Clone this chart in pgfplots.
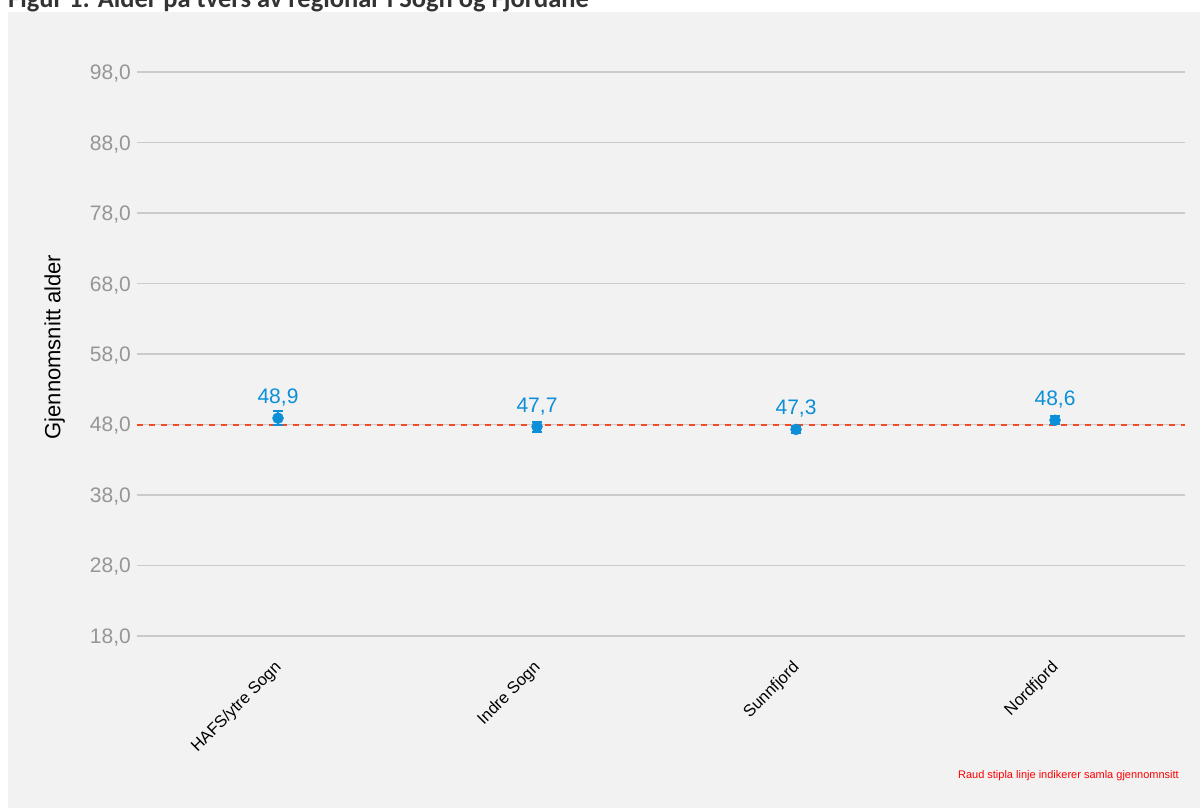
\documentclass[border=0pt]{standalone}
\usepackage{pgfplots}
\pgfplotsset{compat=1.18}
\usepackage{fontspec}
\setmainfont{Liberation Sans}
\newfontfamily\titlefont{Carlito}

\definecolor{panelbg}{HTML}{F2F2F2}
\definecolor{gridgray}{HTML}{CBCBCB}
\definecolor{tickgray}{HTML}{969696}
\definecolor{ptblue}{HTML}{0A8FD8}
\definecolor{meanred}{HTML}{F04A28}
\definecolor{titlegray}{HTML}{333333}

% region, mean age, error
\pgfplotstableread{
x  y     err
0  48.9  0.95
1  47.7  0.7
2  47.3  0.45
3  48.6  0.6
}\agedata

\begin{document}
\begin{tikzpicture}[x=1pt,y=1pt]
% page frame, given relative to the lower left corner of the plot area
\useasboundingbox (-137,-157.9) rectangle ++(1200,808);
\clip (-137,-157.9) rectangle ++(1200,808);
\begin{scope}[shift={(-137,-157.9)}]
\fill[panelbg] (8,0) rectangle (1200,796);
\node[anchor=base west, inner sep=0pt, text=titlegray]
  at (8,800.5) {\titlefont\bfseries\fontsize{26.5}{30}\selectfont Figur 1: Alder på tvers av regionar i Sogn og Fjordane};
\end{scope}

\begin{axis}[
  scale only axis, width=1048pt, height=606.3pt,
  xmin=-0.5444, xmax=3.502,
  ymin=16, ymax=102,
  axis line style={draw=none},
  major tick length=0pt,
  xtick={0,1,2,3},
  xticklabels={HAFS/ytre Sogn, Indre Sogn, Sunnfjord, Nordfjord},
  ytick={18,28,...,98},
  ymajorgrids,
  grid style={color=gridgray, line width=1.1pt},
  /pgf/number format/.cd, fixed, fixed zerofill, precision=1, use comma, assume math mode=true,
  /pgfplots/.cd,
  yticklabel style={anchor=base east, inner sep=0pt, xshift=-6pt, yshift=-7.5pt,
    text=tickgray, font=\fontsize{21}{25}\selectfont},
  xticklabel style={rotate=45, anchor=north east, inner sep=0pt, xshift=-10pt, yshift=-3.5pt,
    text=black, font=\fontsize{16.5}{20}\selectfont},
  clip=false,
]
% overall mean
\addplot[meanred, line width=2pt, dash pattern=on 6pt off 6pt] coordinates {(-0.5444,48) (3.502,48)};
% regional means with error bars
\addplot[
  only marks, mark=*, mark size=5.5pt, color=ptblue,
  error bars/.cd, y dir=both, y explicit,
  error bar style={line width=2pt, color=ptblue},
  error mark options={rotate=90, mark size=5pt, line width=2pt, color=ptblue},
] table[x=x, y=y, y error=err] {\agedata};
\addplot[
  only marks, mark=none,
  nodes near coords,
  every node near coord/.append style={anchor=base, inner sep=0pt, yshift=14.5pt,
    text=ptblue, font=\fontsize{21}{25}\selectfont},
] table[x=x, y=y] {\agedata};
\end{axis}

\begin{scope}[shift={(-137,-157.9)}]
\node[rotate=90, anchor=base, inner sep=0pt, text=black]
  at (60.5,461) {\fontsize{22}{26}\selectfont Gjennomsnitt alder};
\node[anchor=base east, inner sep=0pt, text=red]
  at (1179,29) {\fontsize{11}{13}\selectfont Raud stipla linje indikerer samla gjennomnsitt};
\end{scope}
\end{tikzpicture}
\end{document}
